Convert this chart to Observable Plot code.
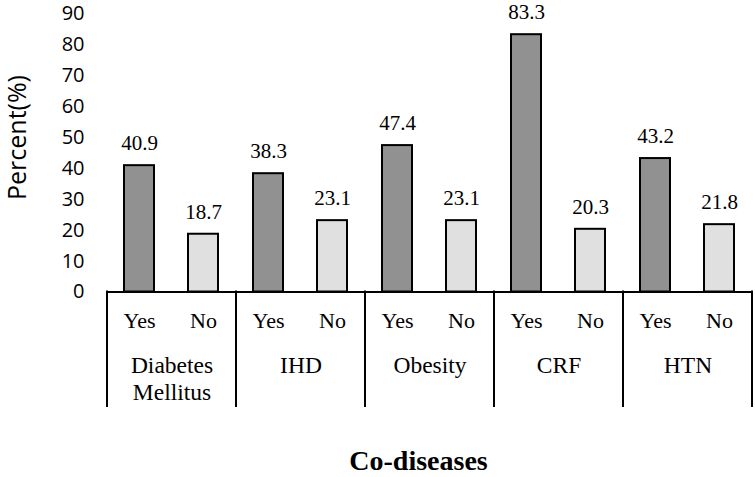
<!DOCTYPE html>
<html>
<head>
<meta charset="utf-8">
<script src="https://cdn.jsdelivr.net/npm/d3@7"></script>
<script src="https://cdn.jsdelivr.net/npm/@observablehq/plot@0.6"></script>
<style>
  body { margin: 0; background: white; }
  #title { width: 755px; box-sizing: border-box; padding-left: 82px; text-align: center;
           font-family: "Liberation Serif", "Times New Roman", serif; font-weight: bold; font-size: 28px;
           line-height: 24px; margin-top: 9px; }
</style>
</head>
<body>
<div id="chart"></div>
<div id="title">Co-diseases</div>
<script>
const groups = ["Diabetes Mellitus", "IHD", "Obesity", "CRF", "HTN"];
const groupLabels = ["Diabetes\nMellitus", "IHD", "Obesity", "CRF", "HTN"];
const statuses = ["Yes", "No"];
const yesValues = [40.9, 38.3, 47.4, 83.3, 43.2];
const noValues = [18.7, 23.1, 23.1, 20.3, 21.8];
const yTicks = [0, 10, 20, 30, 40, 50, 60, 70, 80, 90];
const yLabel = "Percent(%)";

const rows = [];
groups.forEach((g, i) => {
  rows.push({group: g, status: "Yes", value: yesValues[i]});
  rows.push({group: g, status: "No", value: noValues[i]});
});
const groupRows = groups.map((g, i) => ({group: g, label: groupLabels[i]}));

const serif = "'Liberation Serif', 'Times New Roman', serif";
const sans = "'Open Sans', sans-serif";

const plot = Plot.plot({
  width: 755,
  height: 440,
  marginLeft: 105,
  marginRight: 2,
  marginTop: 13.5,
  marginBottom: 148.5,
  style: {fontFamily: sans, fontSize: "20px", background: "white", overflow: "visible", color: "black"},
  fx: {domain: groups, padding: 0, axis: null},
  x: {domain: statuses, paddingInner: 0.53, paddingOuter: 0.265, axis: null},
  y: {domain: [0, 90], ticks: yTicks, tickSize: 0, tickPadding: 23, label: null},
  color: {domain: statuses, range: ["#919191", "#e0e0e0"]},
  marks: [
    Plot.barY(rows, {fx: "group", x: "status", y: "value", fill: "status", stroke: "black", strokeWidth: 2}),
    Plot.text(rows, {fx: "group", x: "status", y: "value", text: d => d.value.toFixed(1), dy: -22, fontFamily: serif, fontSize: 21, fill: "black"}),
    Plot.ruleY([0], {stroke: "black", strokeWidth: 2}),
    Plot.text(rows, {fx: "group", x: "status", text: "status", frameAnchor: "bottom", dy: 36, fontFamily: serif, fontSize: 22, fill: "black"}),
    Plot.text(groupRows, {fx: "group", text: "label", frameAnchor: "bottom", lineAnchor: "top", dy: 62, lineHeight: 1.15, fontFamily: serif, fontSize: 23.5, fill: "black"})
  ]
});

document.getElementById("chart").appendChild(plot);

const svg = d3.select(plot);
const fx = plot.scale("fx");
const y = plot.scale("y");
const y0 = y.apply(0);

// group separators below the baseline, positioned through Plot's scales
const xs = groups.map(g => fx.apply(g));
xs.push(fx.apply(groups[groups.length - 1]) + fx.bandwidth);
svg.append("g")
  .selectAll("line")
  .data(xs)
  .join("line")
  .attr("x1", d => d).attr("x2", d => d)
  .attr("y1", y0 - 1).attr("y2", y0 + 115.5)
  .attr("stroke", "black").attr("stroke-width", 2);

// rotated y-axis title
svg.append("text")
  .attr("transform", `translate(16, ${y.apply(45) - 15}) rotate(-90)`)
  .attr("text-anchor", "middle")
  .attr("dominant-baseline", "central")
  .attr("font-family", sans)
  .attr("font-size", 25)
  .attr("fill", "black")
  .text(yLabel);
</script>
</body>
</html>
